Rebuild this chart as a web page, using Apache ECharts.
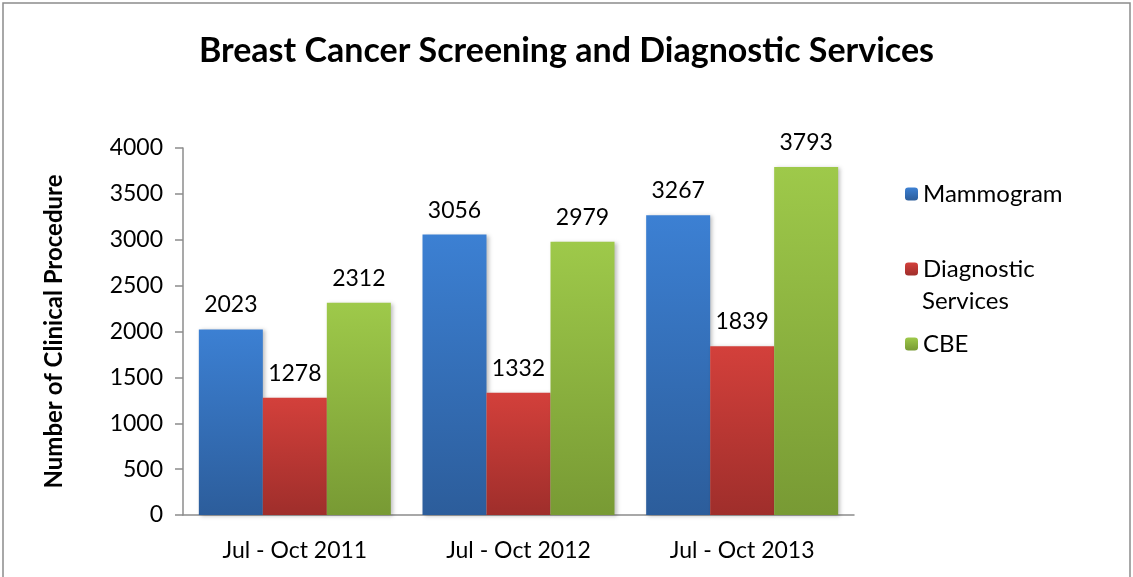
<!DOCTYPE html>
<html>
<head>
<meta charset="utf-8">
<script src="https://cdn.jsdelivr.net/npm/echarts@6/dist/echarts.min.js"></script>
<style>
  html, body { margin: 0; padding: 0; background: #fff; }
  #chart { width: 1133px; height: 577px; }
</style>
</head>
<body>
<div id="chart"></div>
<script>
// data
const periods = ['Jul - Oct 2011', 'Jul - Oct 2012', 'Jul - Oct 2013']
const mammogram = [2023, 3056, 3267]
const diagnostic = [1278, 1332, 1839]
const cbe = [2312, 2979, 3793]
const yTicks = [0, 4000, 500] // min, max, step

const FONT = 'Lato'

// vertical gradient per bar: lighter at top, darker at bottom
const grad = (top, bottom) => new echarts.graphic.LinearGradient(0, 0, 0, 1, [
  { offset: 0, color: top },
  { offset: 1, color: bottom }
])

const barSeries = (name, data, top, bottom) => ({
  name: name,
  type: 'bar',
  data: data,
  barWidth: 64,
  barGap: '0%',
  itemStyle: {
    color: grad(top, bottom),
    shadowColor: 'rgba(0,0,0,0.25)',
    shadowBlur: 4,
    shadowOffsetX: 2,
    shadowOffsetY: 1
  },
  label: {
    show: true,
    position: 'top',
    distance: 13,
    fontFamily: FONT,
    fontSize: 23,
    color: '#000'
  }
})

const chart = echarts.init(document.getElementById('chart'))

chart.setOption({
  animation: false,
  backgroundColor: '#fff',
  title: {
    text: 'Breast Cancer Screening and Diagnostic Services',
    left: 'center',
    top: 29,
    textStyle: { fontFamily: FONT, fontSize: 34, fontWeight: 'bold', color: '#000' }
  },
  grid: { left: 183, right: 279, top: 148, bottom: 62 },
  legend: [
    {
      orient: 'vertical',
      left: 900,
      top: 177,
      itemWidth: 13,
      itemHeight: 13,
      itemGap: 51,
      data: ['Mammogram', 'Diagnostic Services', 'CBE'],
      formatter: (n) => (n === 'Diagnostic Services' ? 'Diagnostic' : n),
      textStyle: { fontFamily: FONT, fontSize: 24, color: '#000' }
    }
  ],
  graphic: [
    {
      type: 'rect',
      shape: { x: 3, y: 3, width: 1127, height: 620 },
      style: { fill: 'none', stroke: '#8c8c8c', lineWidth: 1.5 },
      silent: true
    },
    {
      type: 'text',
      left: 922,
      top: 289,
      style: { text: 'Services', fontFamily: FONT, fontSize: 24, fill: '#000' }
    }
  ],
  xAxis: {
    type: 'category',
    data: periods,
    axisLine: { lineStyle: { color: '#8c8c8c', width: 1.5 } },
    axisTick: { show: false },
    axisLabel: { fontFamily: FONT, fontSize: 23, color: '#000', margin: 24 }
  },
  yAxis: {
    type: 'value',
    min: yTicks[0],
    max: yTicks[1],
    interval: yTicks[2],
    name: 'Number of Clinical Procedure',
    nameLocation: 'middle',
    nameGap: 117,
    nameTextStyle: { fontFamily: FONT, fontSize: 24, fontWeight: 'bold', color: '#000' },
    axisLine: { show: true, lineStyle: { color: '#8c8c8c', width: 1.5 } },
    axisTick: { show: true, length: 8, lineStyle: { color: '#8c8c8c', width: 1.5 } },
    splitLine: { show: false },
    axisLabel: { fontFamily: FONT, fontSize: 23, color: '#000', margin: 20, formatter: (v) => String(v) }
  },
  series: [
    barSeries('Mammogram', mammogram, '#3c80d3', '#2c5d9b'),
    barSeries('Diagnostic Services', diagnostic, '#d3403b', '#9f2e2b'),
    barSeries('CBE', cbe, '#9ec94a', '#789a34')
  ]
})

window.addEventListener('resize', () => chart.resize())
</script>
</body>
</html>
